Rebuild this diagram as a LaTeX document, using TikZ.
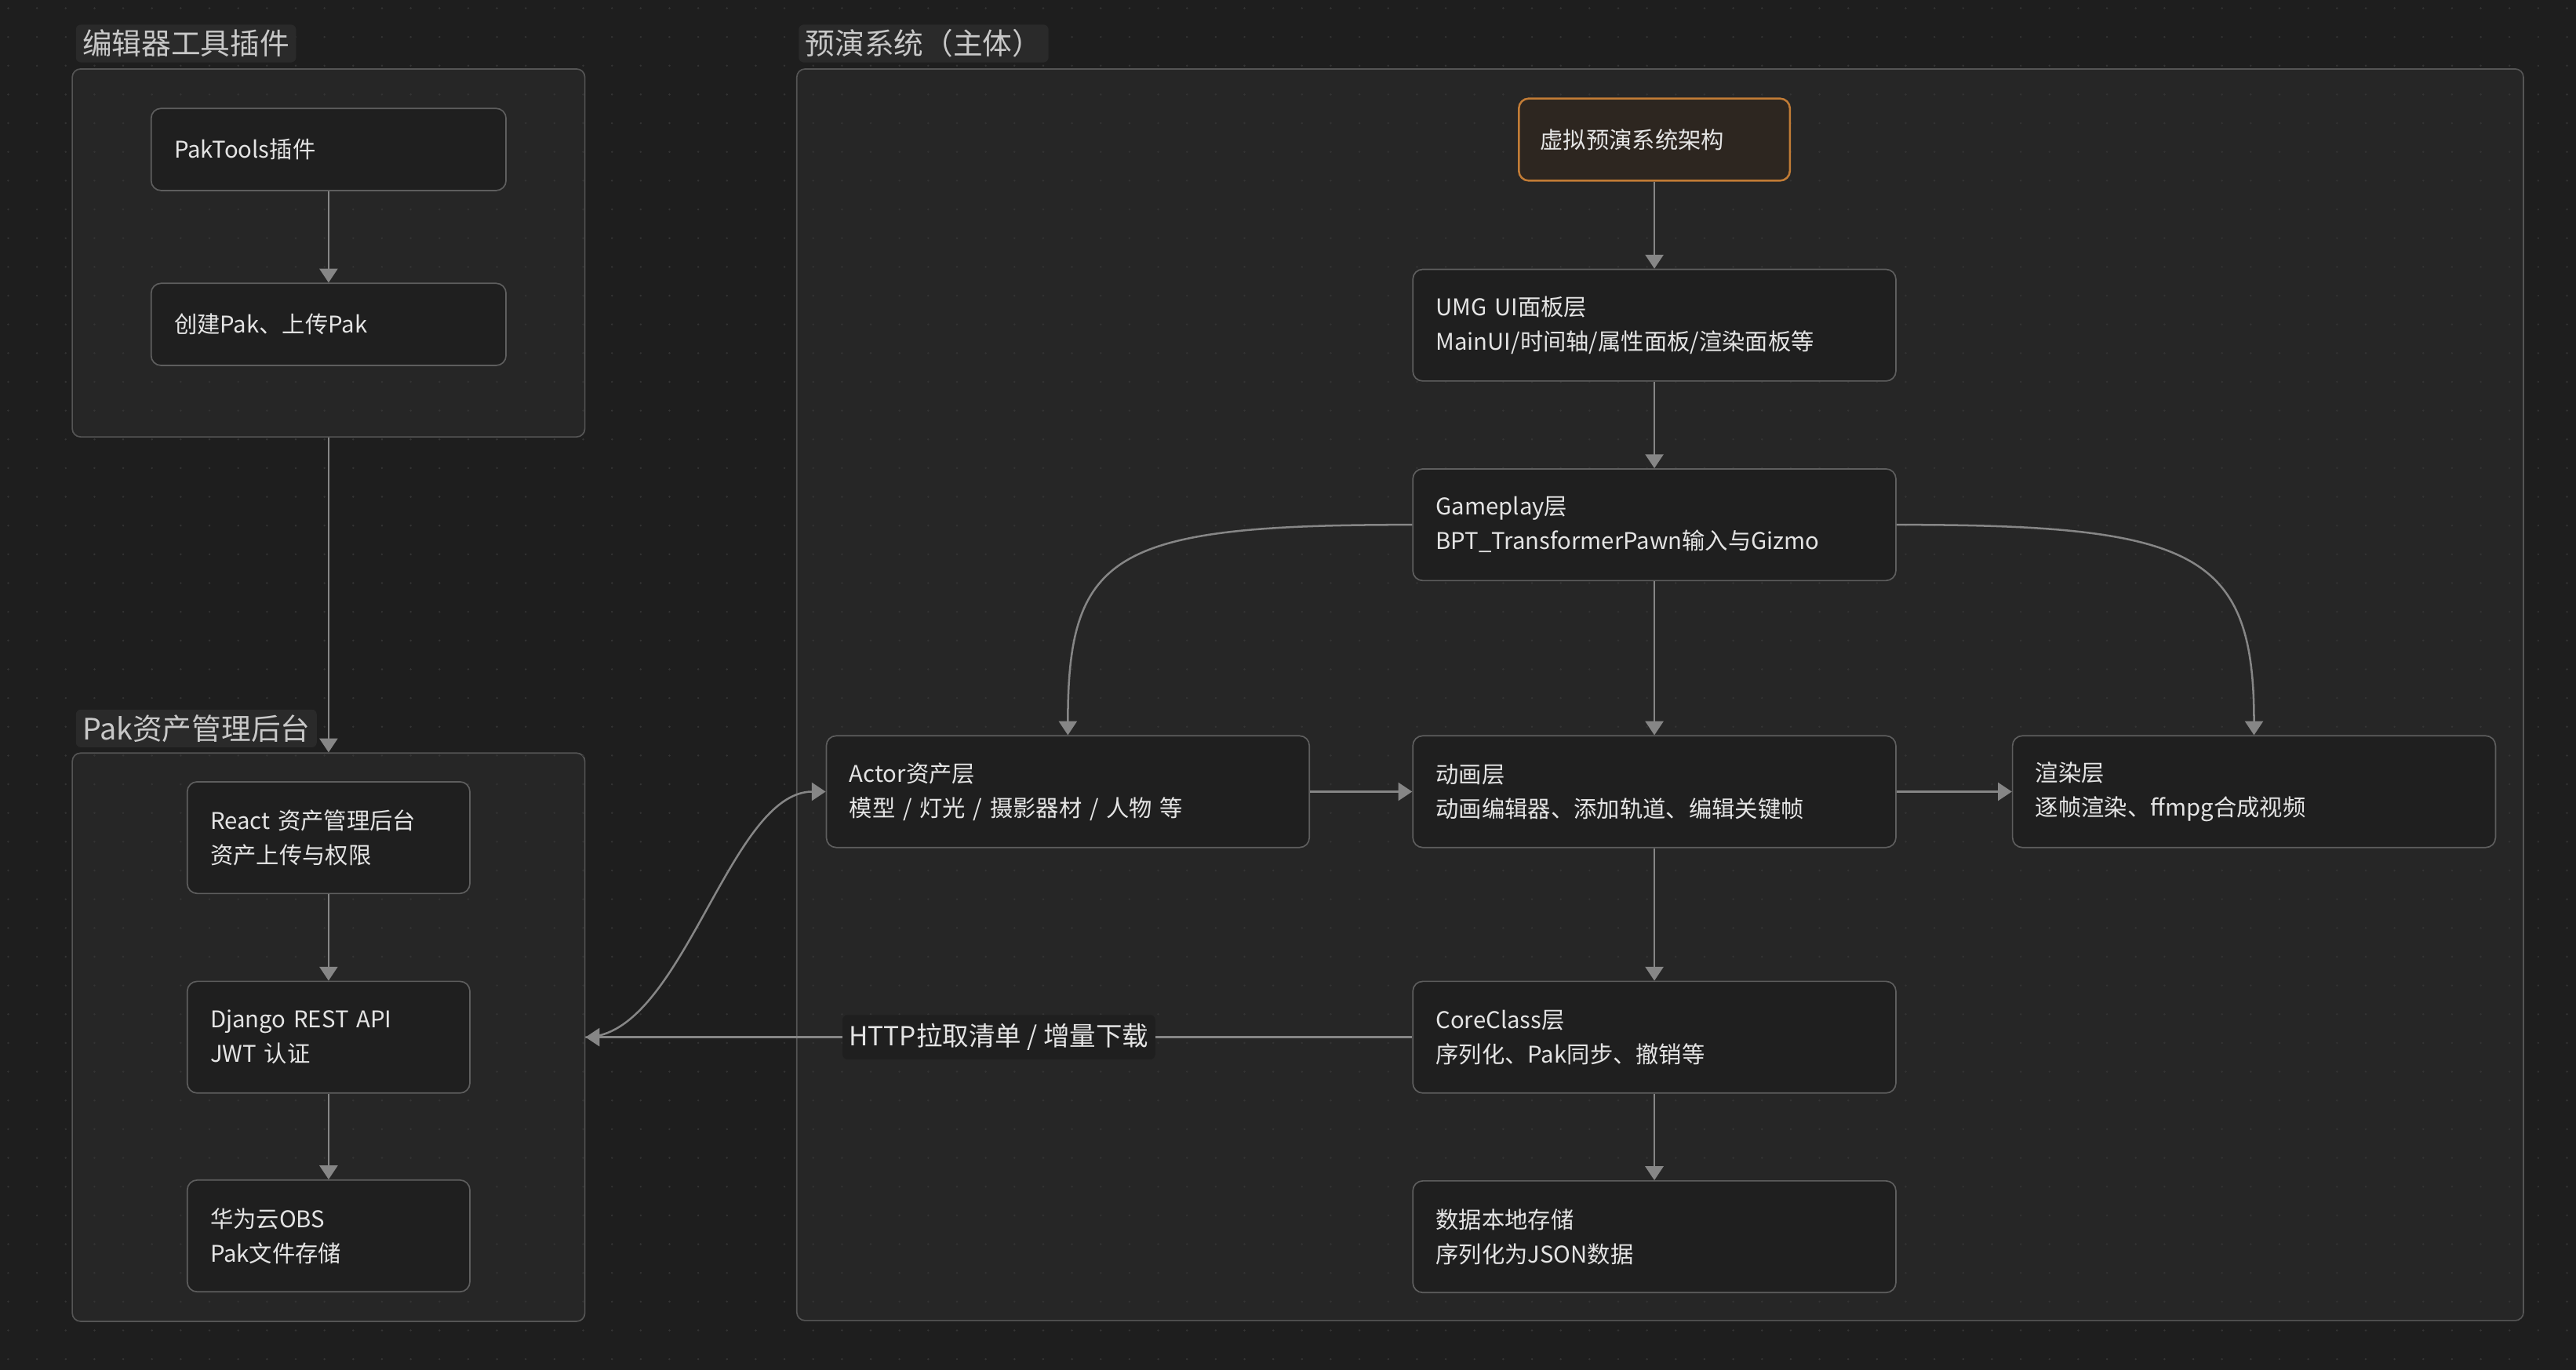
\documentclass[tikz,border=0pt]{standalone}
\usepackage{fontspec}
\setmainfont{Noto Sans CJK SC}
\usepackage{tikz}
\usetikzlibrary{arrows.meta}
\definecolor{canvas}{HTML}{1E1E1E}
\definecolor{groupfill}{HTML}{262626}
\definecolor{groupline}{HTML}{555555}
\definecolor{nodefill}{HTML}{1F1F1F}
\definecolor{nodeline}{HTML}{5E5E5E}
\definecolor{nodetext}{HTML}{E4E4E4}
\definecolor{tagfill}{HTML}{2A2A2A}
\definecolor{tagtext}{HTML}{C8C8C8}
\definecolor{edgecolour}{HTML}{868686}
\definecolor{griddot}{HTML}{343434}
\definecolor{rootline}{HTML}{C27C36}
\definecolor{rootfill}{HTML}{2D2620}
\tikzset{>={Triangle[length=8.5pt,width=11pt]}}
\newcommand\linewd{.8pt}
\newcommand\edgewidth{1.2pt}
\tikzstyle{group}    = [draw=groupline, fill=groupfill, line width=\linewd, rounded corners=5pt]
\tikzstyle{grouptag} = [fill=tagfill, text=tagtext, rounded corners=3pt, anchor=west,
  font=\fontsize{18}{18}\selectfont, inner xsep=4pt, inner ysep=0pt, minimum height=23pt]
\tikzstyle{layer}    = [draw=nodeline, fill=nodefill, text=nodetext, line width=\linewd,
  rounded corners=6pt, align=left, inner xsep=14pt, font=\fontsize{14}{21}\selectfont]
\tikzstyle{wide}     = [layer, text width=266pt, minimum height=68pt]
\tikzstyle{tool}     = [layer, text width=188pt, minimum height=50pt]
\tikzstyle{admin}    = [layer, text width=144pt, minimum height=68pt]
\tikzstyle{edge}     = [draw=edgecolour, line width=\edgewidth]
\tikzstyle{edgelabel}= [fill=nodefill, text=nodetext, rounded corners=3pt,
  font=\fontsize{16}{16}\selectfont, inner xsep=4pt, inner ysep=0pt, minimum height=27pt]

\begin{document}
\begin{tikzpicture}[x=1pt, y=-1pt]
  \fill[canvas] (0,0) rectangle (1568,834);
  \useasboundingbox (0,0) rectangle (1568,834);
  \draw (200, 154) node[group, minimum width=312pt, minimum height=224pt] (grp1) {};
  \draw (200, 631.5) node[group, minimum width=312pt, minimum height=346pt] (grp2) {};
  \draw (1010.5, 423) node[group, minimum width=1051pt, minimum height=762pt] (grp3) {};
  \foreach \gx in {0,...,89} {
    \foreach \gy in {0,...,47} {
      \fill[griddot] (5+17.5*\gx, 5+17.5*\gy) circle (0.65pt);
    }
  }
  \draw (46, 26.5) node[grouptag] (tooltag) {编辑器工具插件};
  \draw (46, 443.5) node[grouptag] (admintag) {Pak资产管理后台};
  \draw (486, 26.5) node[grouptag] (systag) {预演系统（主体）};
  \draw (200, 91) node[tool] (pak) {PakTools插件};
  \draw (200, 197.5) node[tool] (mkpak) {创建Pak、上传Pak};
  \draw (200, 510) node[admin] (react) {React 资产管理后台\\资产上传与权限};
  \draw (200, 631.5) node[admin] (dj) {Django REST API\\JWT 认证};
  \draw (200, 752.5) node[admin] (obs) {华为云OBS\\Pak文件存储};
  \draw (1007, 85) node[layer, draw=rootline, fill=rootfill, line width=1.2pt,
    inner xsep=13pt, text width=139pt, minimum height=50pt] (root) {虚拟预演系统架构};
  \draw (1007, 198) node[wide] (umg) {UMG UI面板层\\MainUI/时间轴/属性面板/渲染面板等};
  \draw (1007, 319.5) node[wide] (gp) {Gameplay层\\BPT\_TransformerPawn输入与Gizmo};
  \draw (650, 482) node[wide] (actor) {Actor资产层\\模型 / 灯光 / 摄影器材 / 人物 等};
  \draw (1007, 482) node[wide] (anim) {动画层\\动画编辑器、添加轨道、编辑关键帧};
  \draw (1372, 482) node[wide] (rend) {渲染层\\逐帧渲染、ffmpg合成视频};
  \draw (1007, 631.5) node[wide] (core) {CoreClass层\\序列化、Pak同步、撤销等};
  \draw (1007, 753) node[wide] (store) {数据本地存储\\序列化为JSON数据};
  \draw (pak) -- (mkpak) [edge, ->];
  \draw (grp1.south) -- (grp2.north) [edge, ->];
  \draw (react) -- (dj) [edge, ->];
  \draw (dj) -- (obs) [edge, ->];
  \draw (root) -- (umg) [edge, ->];
  \draw (umg) -- (gp) [edge, ->];
  \draw (gp) -- (anim) [edge, ->];
  \draw (gp.west) .. controls +(-181,0) and +(0,-112) .. (actor.north) [edge, ->];
  \draw (gp.east) .. controls +(181,0) and +(0,-112) .. (rend.north) [edge, ->];
  \draw (actor) -- (anim) [edge, ->];
  \draw (anim) -- (rend) [edge, ->];
  \draw (anim) -- (core) [edge, ->];
  \draw (core) -- (store) [edge, ->];
  \draw (core.west) -- node[edgelabel] (http) {HTTP拉取清单 / 增量下载} (grp2.east) [edge, ->];
  \draw (grp2.east) .. controls +(59,0) and +(-59,0) .. (actor.west) [edge, ->];
\end{tikzpicture}
\end{document}
